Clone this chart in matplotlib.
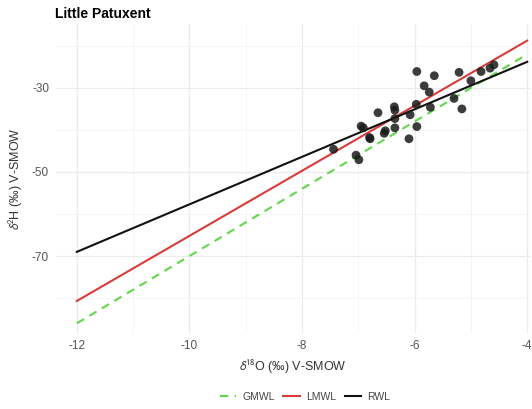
import numpy as np
import matplotlib
matplotlib.use("Agg")
from matplotlib import pyplot as plt
from matplotlib.lines import Line2D

plt.rcParams["font.family"] = ["Liberation Sans", "DejaVu Sans"]
plt.rcParams["axes.unicode_minus"] = False
plt.rcParams["mathtext.fontset"] = "stixsans"

# sample isotope values
d18O = [-5.96, -5.65, -5.21, -4.82, -4.66, -4.59, -5.00, -5.83, -5.74, -5.30,
        -5.16, -5.97, -5.72, -6.08, -5.96, -6.36, -6.35, -6.35, -6.35, -6.65,
        -6.95, -6.91, -6.52, -6.54, -6.80, -6.79, -6.10, -7.44, -7.04, -6.99]
d2H = [-26.1, -27.1, -26.3, -26.1, -25.3, -24.5, -28.3, -29.5, -31.0, -32.5,
       -35.0, -33.9, -34.6, -36.4, -39.2, -34.5, -35.3, -37.3, -39.5, -35.9,
       -39.1, -39.5, -40.2, -40.8, -41.8, -42.1, -42.1, -44.6, -46.0, -47.1]

# water lines: slope, intercept
line_names = ["GMWL", "LMWL", "RWL"]
slopes = [8.0, 7.74, 5.65]
intercepts = [10.0, 12.2, -1.2]
line_colors = ["#5fd94a", "#d93a3a", "#111111"]
line_styles = [(0, (4, 3)), "-", "-"]
x_range = [-12, -4]

fig = plt.figure(figsize=(5.32, 4.09), dpi=100)
ax = fig.add_axes([56 / 532, 1 - 333 / 409, 474 / 532, 309 / 409])

ax.set_xlim(-12.37, -3.95)
ax.set_ylim(-88.3, -14.8)
ax.set_xticks([-12, -10, -8, -6, -4])
ax.set_xticks([-11, -9, -7, -5], minor=True)
ax.set_yticks([-70, -50, -30])
ax.set_yticks([-80, -60, -40, -20], minor=True)
ax.grid(which="major", color="#ebebeb", lw=0.9)
ax.grid(which="minor", color="#f4f4f4", lw=0.6)
ax.set_axisbelow(True)
for s in ax.spines.values():
    s.set_visible(False)
ax.tick_params(which="both", length=0, colors="#555555", labelsize=8.5, pad=5)

xs = np.array(x_range)
for name, m, b, c, ls in zip(line_names, slopes, intercepts, line_colors, line_styles):
    ax.plot(xs, m * xs + b, color=c, ls=ls, lw=1.5, zorder=2)

ax.scatter(d18O, d2H, s=40, color="#1a1a1a", alpha=0.85, edgecolors="none", zorder=3)

ax.set_xlabel(r"$\delta^{18}$O (‰) V-SMOW", fontsize=9, color="#333333", labelpad=4)
ax.set_ylabel(r"$\delta^{2}$H (‰) V-SMOW", fontsize=9, color="#333333", labelpad=5)
fig.text(55 / 532, 1 - 14 / 409, "Little Patuxent", fontsize=10, fontweight="bold",
         va="center", ha="left")

handles = [Line2D([], [], color=c, ls=ls, lw=1.5)
           for c, ls in zip(line_colors, line_styles)]
fig.legend(handles, line_names, loc="center", bbox_to_anchor=(305 / 532, 1 - 397 / 409),
           ncol=3, frameon=False, fontsize=7.5, handlelength=1.6, columnspacing=0.8,
           handletextpad=0.6, labelcolor="#444444")

fig.savefig("out.png", dpi=100)
